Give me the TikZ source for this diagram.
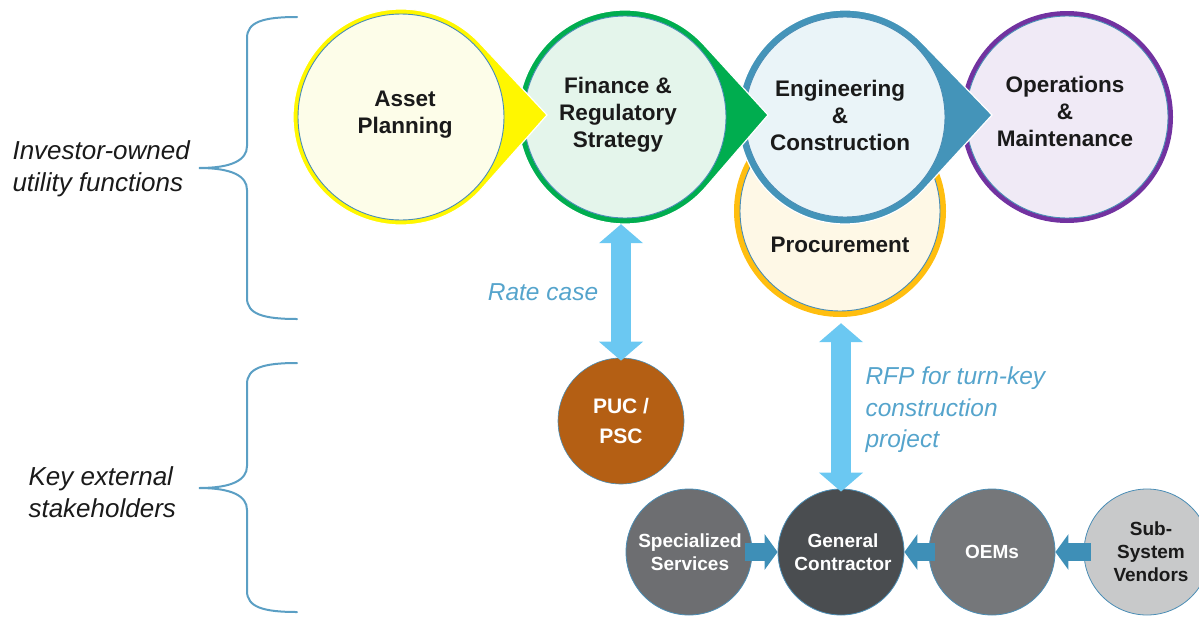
\documentclass[tikz,border=0pt]{standalone}
\usepackage{fontspec}
\setmainfont{Liberation Sans}
\usetikzlibrary{arrows.meta,calc}
\definecolor{edgeblue}{HTML}{4A8DB5}
\definecolor{ylring}{HTML}{FFF700}
\definecolor{ylfill}{HTML}{FDFDE9}
\definecolor{grring}{HTML}{00AD4F}
\definecolor{grfill}{HTML}{E4F5EB}
\definecolor{blring}{HTML}{4494B9}
\definecolor{blfill}{HTML}{EAF4F8}
\definecolor{gdring}{HTML}{FFBE0F}
\definecolor{gdfill}{HTML}{FEF8E6}
\definecolor{puring}{HTML}{7232A0}
\definecolor{pufill}{HTML}{F0EAF6}
\definecolor{pucbrown}{HTML}{B45F14}
\definecolor{arrowlight}{HTML}{6BC8F2}
\definecolor{steelarrow}{HTML}{3E8FB7}
\definecolor{labelblue}{HTML}{55A4CC}
\definecolor{bracecol}{HTML}{5B9FC4}
\definecolor{specgrey}{HTML}{6D6E71}
\definecolor{gcgrey}{HTML}{4A4D50}
\definecolor{oemgrey}{HTML}{75777A}
\definecolor{subgrey}{HTML}{C8C9CA}
\definecolor{txt}{HTML}{1A1A1A}
\newcommand\tdrop[6]{%
  \pgfmathsetmacro\tdang{acos(#3/#4)}%
  \fill[#5, draw=white, line width=1.2pt] ($(#1,#2)+(\tdang:#3)$) arc[start angle=\tdang, end angle=360-\tdang, radius=#3] -- ($(#1,#2)+(#4,#6)$) -- cycle;}
\begin{document}
\begin{tikzpicture}[x=1pt,y=-1pt,
  outerc/.style={circle, inner sep=0pt},
  innerc/.style={circle, inner sep=0pt, draw=edgeblue, line width=0.9pt},
  toptext/.style={align=center, text=txt, font=\bfseries\fontsize{22.5}{27}\selectfont},
  bottext/.style={align=center, text=white, font=\bfseries\fontsize{19}{23}\selectfont},
  botc/.style={circle, inner sep=0pt, minimum size=126pt, draw=edgeblue, line width=0.8pt},
  sidelabel/.style={align=left, anchor=west, text=txt, font=\itshape\fontsize{26}{32}\selectfont},
  flowlabel/.style={align=left, text=labelblue, font=\itshape\fontsize{24.5}{31.5}\selectfont},
  dblarrow/.style={draw=arrowlight, line width=20pt, {Triangle[width=43pt,length=19pt]}-{Triangle[width=43pt,length=19pt]}},
  smallarrow/.style={draw=steelarrow, line width=18pt, -{Triangle[width=35pt,length=13pt]}},
  bracestyle/.style={draw=bracecol, line width=2pt, line cap=round}
]
\useasboundingbox (0,0) rectangle (1199,616);

% braces
\draw[bracestyle] (297,17) .. controls (263,17) and (247,22) .. (247,38) -- (247,146)
  .. controls (247,160) and (232,168) .. (199,168)
  .. controls (232,168) and (247,176) .. (247,190) -- (247,298)
  .. controls (247,314) and (263,319) .. (297,319);
\draw[bracestyle] (297,363) .. controls (263,363) and (247,368) .. (247,384) -- (247,466)
  .. controls (247,480) and (232,488) .. (199,488)
  .. controls (232,488) and (247,496) .. (247,510) -- (247,591)
  .. controls (247,607) and (263,612) .. (297,612);

\node[sidelabel] (lab1) at (9,169) {Investor-owned\\utility functions};
\node[sidelabel] (lab2) at (25,492) {Key external\\stakeholders};

% Operations
\node[outerc, minimum size=212pt, fill=puring] (opo) at (1067,117) {};
\node[innerc, minimum size=202pt, fill=pufill] (op) at (1067,117) {};
% Procurement
\node[outerc, minimum size=212pt, fill=gdring] (proco) at (840,211) {};
\node[innerc, minimum size=200pt, fill=gdfill] (proc) at (840,211) {};
% Engineering
\tdrop{845}{117}{107}{147}{blring}{-2}
\node[outerc, minimum size=214pt] (engo) at (845,117) {};
\node[innerc, minimum size=200pt, fill=blfill] (eng) at (845,117) {};
% Finance
\tdrop{625}{117}{107}{143}{grring}{-2}
\node[outerc, minimum size=214pt] (fino) at (625,117) {};
\node[innerc, minimum size=202pt, fill=grfill] (fin) at (625,117) {};
% Asset planning
\tdrop{401}{117}{108}{146}{ylring}{-2}
\node[outerc, minimum size=216pt] (apo) at (401,117) {};
\node[innerc, minimum size=206pt, fill=ylfill] (ap) at (401,117) {};

\node[toptext] (apt) at (405,115) {Asset\\Planning};
\node[toptext] (fint) at (618,115) {Finance \&\\Regulatory\\Strategy};
\node[toptext] (engt) at (840,115) {Engineering\\\&\\Construction};
\node[toptext] (proct) at (840,245) {Procurement};
\node[toptext] (opt) at (1065,111) {Operations\\\&\\Maintenance};

% PUC
\node[circle, inner sep=0pt, minimum size=126pt, fill=pucbrown, draw=edgeblue, line width=0.6pt, align=center, text=white, font=\bfseries\fontsize{21}{30}\selectfont] (puc) at (621,421) {PUC /\\PSC};

% bottom row
\node[botc, fill=specgrey] (spec) at (689,552) {};
\node[botc, fill=gcgrey] (gc) at (841,552) {};
\node[botc, fill=oemgrey] (oem) at (992,552) {};
\node[botc, fill=subgrey] (sub) at (1147,552) {};
\node[bottext] (spect) at (690,552) {Specialized\\Services};
\node[bottext] (gct) at (843,552) {General\\Contractor};
\node[bottext] (oemt) at (992,552) {OEMs};
\node[bottext, text=txt] (subt) at (1151,552) {Sub-\\System\\Vendors};

% arrows
\draw[dblarrow] (fino.south -| puc.north) -- ([yshift=-3pt]puc.north);
\draw[dblarrow, shorten <=6pt] (proco.south -| gc.north) -- ([yshift=-3pt]gc.north);
\draw[smallarrow] ([xshift=-7pt]spec.east) -- (gc.west);
\draw[smallarrow] ([xshift=6pt]oem.west) -- (gc.east);
\draw[smallarrow] ([xshift=7pt]sub.west) -- (oem.east);

\node[flowlabel] (rate) at (543,292) {Rate case};
\node[flowlabel, anchor=west] (rfp) at (862,410) {RFP for turn-key\\construction\\project};
\end{tikzpicture}
\end{document}
